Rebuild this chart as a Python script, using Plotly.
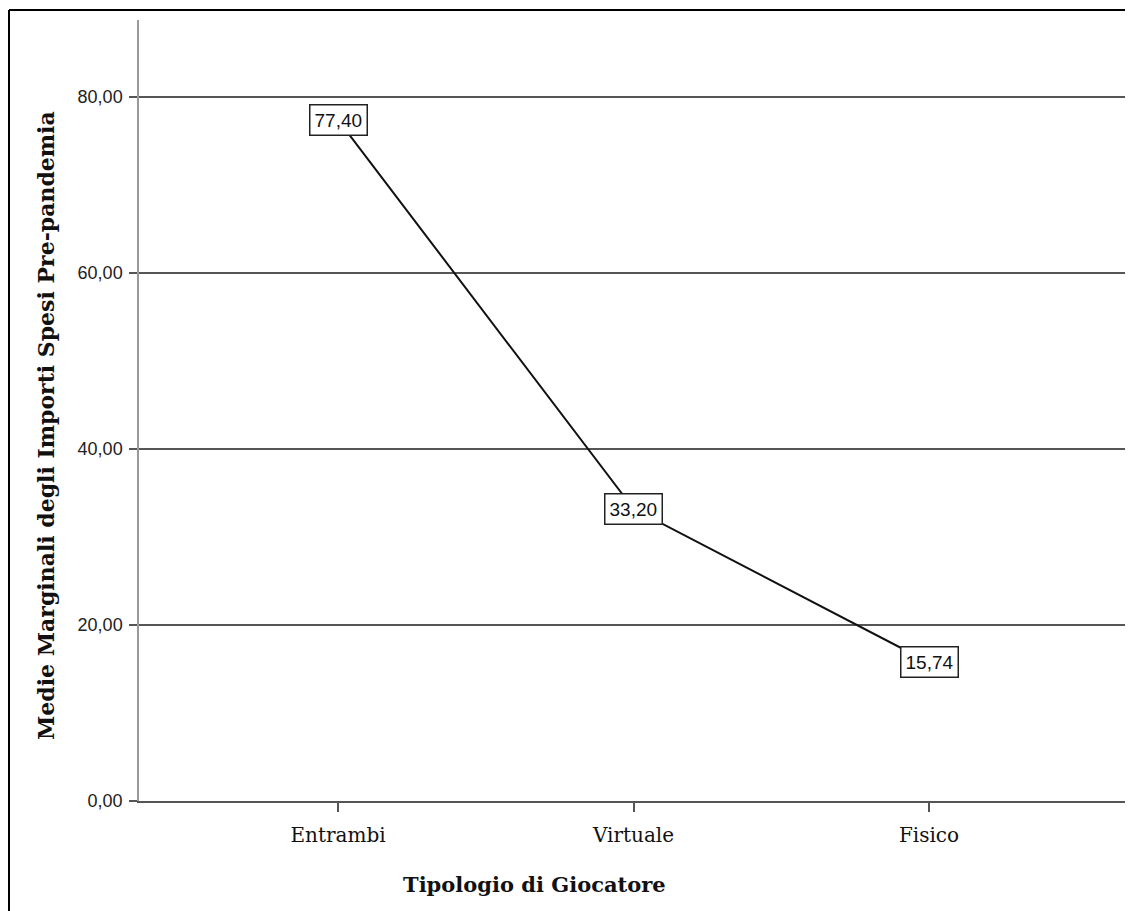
import plotly.graph_objects as go

categories = ["Entrambi", "Virtuale", "Fisico"]
values = [77.40, 33.20, 15.74]
value_labels = ["77,40", "33,20", "15,74"]
y_tickvals = [0, 20, 40, 60, 80]
y_ticktext = ["0,00", "20,00", "40,00", "60,00", "80,00"]

# page has an 8px body margin; figure coordinates = reference - 8
OFF = 8
W, H = 1133 - OFF, 911 - OFF
L, R, T = 139 - OFF, 5, 20 - OFF
B = H - (801 - OFF)
pw, ph = W - L - R, H - T - B


def px_x(p):
    return (p - OFF - L) / pw


def px_y(p):
    return (T + ph - (p - OFF)) / ph


fig = go.Figure()
fig.add_trace(go.Scatter(
    x=categories, y=values, mode="lines",
    line=dict(color="#111111", width=2),
    hoverinfo="skip", showlegend=False,
))

for c, v, t in zip(categories, values, value_labels):
    fig.add_annotation(
        x=c, y=v, xref="x", yref="y", text=t, showarrow=False,
        font=dict(family="Liberation Sans", size=19, color="#111111"),
        bgcolor="white", bordercolor="#222222", borderwidth=1.5, borderpad=4,
    )

# axis titles
fig.add_annotation(
    x=px_x(534), y=px_y(884), xref="paper", yref="paper",
    text="<b>Tipologio di Giocatore</b>", showarrow=False,
    font=dict(family="DejaVu Serif", size=21, color="#111111"),
    xanchor="center", yanchor="middle",
)
fig.add_annotation(
    x=px_x(46), y=px_y(426), xref="paper", yref="paper",
    text="<b>Medie Marginali degli Importi Spesi Pre-pandemia</b>", showarrow=False,
    textangle=-90,
    font=dict(family="DejaVu Serif", size=22, color="#111111"),
    xanchor="center", yanchor="middle",
)

# outer frame (top and left edges visible)
fx, fy = px_x(9), px_y(10)
fig.add_shape(type="line", xref="paper", yref="paper",
              x0=fx, x1=px_x(1140), y0=fy, y1=fy,
              line=dict(color="#000000", width=2))
fig.add_shape(type="line", xref="paper", yref="paper",
              x0=fx, x1=fx, y0=fy, y1=px_y(920),
              line=dict(color="#000000", width=2))

# keep category centres at 338 / 633 / 929 px
spacing = (929 - 338) / 2
x_lo = -(338 - 139) / spacing
x_hi = 2 + (OFF + L + pw - 929) / spacing

fig.update_layout(
    width=W, height=H,
    margin=dict(l=L, r=R, t=T, b=B),
    paper_bgcolor="white", plot_bgcolor="white",
    showlegend=False,
)
fig.update_xaxes(
    type="category", range=[x_lo, x_hi],
    showgrid=False, zeroline=False,
    showline=True, linecolor="#555555", linewidth=1.5,
    ticks="outside", ticklen=9, tickwidth=1.5, tickcolor="#555555",
    ticklabelstandoff=6,
    tickfont=dict(family="DejaVu Serif", size=20, color="#111111"),
)
fig.update_yaxes(
    range=[0, 88.75],
    tickvals=y_tickvals, ticktext=y_ticktext,
    showgrid=True, gridcolor="#555555", gridwidth=1.5,
    zeroline=False,
    showline=True, linecolor="#999999", linewidth=1.5,
    ticks="outside", ticklen=8, tickwidth=1.5, tickcolor="#555555",
    ticklabelstandoff=3,
    tickfont=dict(family="Liberation Sans", size=18, color="#222222"),
)

fig.write_html("out.html")
